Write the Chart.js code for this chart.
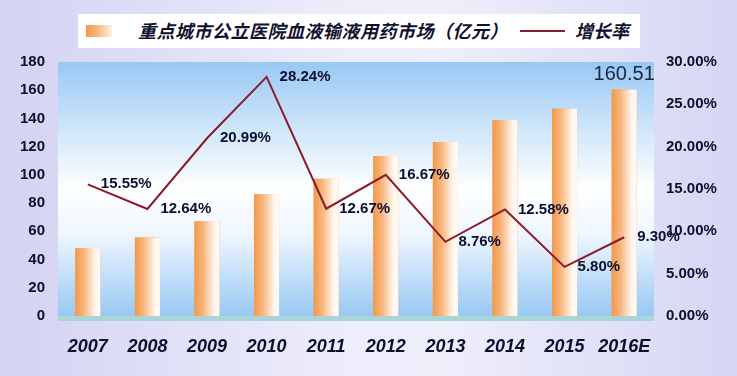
<!DOCTYPE html>
<html>
<head>
<meta charset="utf-8">
<script src="https://cdn.jsdelivr.net/npm/chart.js@4"></script>
<style>
  body { margin: 0; }
  #wrap {
    position: relative; width: 737px; height: 376px; overflow: hidden;
    background: linear-gradient(to right, #d3d3f3 0%, #ececfb 45%, #eeeefb 60%, #d6d6f4 100%);
  }
  #legend {
    position: absolute; left: 78px; top: 14px; width: 562px; height: 34px;
    background: #fff; font-family: "Noto Sans CJK SC", sans-serif;
    font-weight: bold; font-style: italic; font-size: 18px; color: #101030;
  }
  #legend .sw { position: absolute; left: 8px; top: 11px; width: 26px; height: 12px;
    background: linear-gradient(to right, #f29a4c, #f8bb86 50%, #fff3e6); }
  #legend .t1 { position: absolute; left: 60px; top: 3px; white-space: nowrap; letter-spacing: 0.5px; }
  #legend .ln { position: absolute; left: 442px; top: 16px; width: 45px; height: 2px; background: #8b1a2a; }
  #legend .t2 { position: absolute; left: 497px; top: 3px; white-space: nowrap; }
</style>
</head>
<body>
<div id="wrap">
  <canvas id="c" width="737" height="376"></canvas>
  <div id="legend">
    <div class="sw"></div><div class="t1">重点城市公立医院血液输液用药市场（亿元）</div>
    <div class="ln"></div><div class="t2">增长率</div>
  </div>
</div>
<script>
const years = ['2007', '2008', '2009', '2010', '2011', '2012', '2013', '2014', '2015', '2016E'];
const market = [48.1, 55.6, 67.3, 86.3, 97.2, 113.4, 123.3, 138.8, 146.9, 160.51];
const growth = [15.55, 12.64, 20.99, 28.24, 12.67, 16.67, 8.76, 12.58, 5.80, 9.30];
const leftTicks = [0, 20, 40, 60, 80, 100, 120, 140, 160, 180];
const rightTicks = [0, 5, 10, 15, 20, 25, 30];

const tickFont = { family: 'Liberation Sans', size: 15, weight: 'bold' };
const ink = '#0d0d2e';

// plot background, floor strip, gradient bars and value labels
const decor = {
  id: 'decor',
  beforeDatasetsDraw(chart) {
    const { ctx, chartArea: a } = chart;
    const g = ctx.createLinearGradient(0, a.top, 0, a.bottom);
    g.addColorStop(0, '#98c8f4');
    g.addColorStop(0.3, '#d6eafb');
    g.addColorStop(0.5, '#ffffff');
    g.addColorStop(0.68, '#eef6fe');
    g.addColorStop(1, '#97c8f3');
    ctx.save();
    ctx.fillStyle = g;
    ctx.fillRect(a.left, a.top, a.right - a.left, a.bottom - a.top);
    ctx.fillStyle = '#a9d5d6';
    ctx.fillRect(a.left, a.bottom, a.right - a.left, 5);
    ctx.restore();
  },
  afterDatasetDraw(chart, args) {
    if (args.index !== 0) return;
    const { ctx } = chart;
    ctx.save();
    args.meta.data.forEach(bar => {
      const x0 = bar.x - bar.width / 2;
      const g = ctx.createLinearGradient(x0, 0, x0 + bar.width, 0);
      g.addColorStop(0, '#f2984a');
      g.addColorStop(0.35, '#f8b67e');
      g.addColorStop(0.8, '#fff6ee');
      g.addColorStop(1, '#fffaf5');
      ctx.fillStyle = g;
      ctx.fillRect(x0, bar.y, bar.width, bar.base - bar.y);
    });
    ctx.restore();
  },
  afterDatasetsDraw(chart) {
    const { ctx } = chart;
    ctx.save();
    ctx.textBaseline = 'middle';
    ctx.textAlign = 'left';
    ctx.fillStyle = ink;
    ctx.font = 'bold 15px "Liberation Sans"';
    chart.getDatasetMeta(1).data.forEach((pt, i) => {
      ctx.fillText(growth[i].toFixed(2) + '%', pt.x + 13, pt.y);
    });
    const bars = chart.getDatasetMeta(0).data;
    const last = bars[bars.length - 1];
    ctx.textAlign = 'center';
    ctx.textBaseline = 'bottom';
    ctx.fillStyle = '#1a2540';
    ctx.font = '20px "Liberation Sans"';
    ctx.fillText(market[market.length - 1].toFixed(2), last.x, last.y - 5);
    ctx.restore();
  }
};

new Chart(document.getElementById('c'), {
  data: {
    labels: years,
    datasets: [
      {
        type: 'bar', label: '重点城市公立医院血液输液用药市场（亿元）', data: market,
        backgroundColor: '#f5a35c', yAxisID: 'y', order: 2,
        categoryPercentage: 1, barPercentage: 0.42
      },
      {
        type: 'line', label: '增长率', data: growth, yAxisID: 'y1', order: 1,
        borderColor: '#8b1a2a', borderWidth: 2, pointRadius: 0, tension: 0
      }
    ]
  },
  options: {
    responsive: false,
    animation: false,
    layout: { padding: { top: 62 } },
    plugins: { legend: { display: false }, tooltip: { enabled: false } },
    scales: {
      x: {
        grid: { display: false }, border: { display: false },
        ticks: {
          color: ink, padding: 12, maxRotation: 0, minRotation: 0, autoSkip: false,
          font: { family: 'Liberation Sans', size: 18, weight: 'bold', style: 'italic' }
        },
        afterFit(s) { s.height = 60; }
      },
      y: {
        position: 'left', min: leftTicks[0], max: leftTicks[leftTicks.length - 1],
        grid: { display: false }, border: { display: false },
        afterBuildTicks(s) { s.ticks = leftTicks.map(v => ({ value: v })); },
        ticks: { color: ink, padding: 5, font: tickFont },
        afterFit(s) { s.width = 58; }
      },
      y1: {
        position: 'right', min: rightTicks[0], max: rightTicks[rightTicks.length - 1],
        grid: { display: false }, border: { display: false },
        afterBuildTicks(s) { s.ticks = rightTicks.map(v => ({ value: v })); },
        ticks: { color: ink, padding: 4, font: tickFont, callback: v => v.toFixed(2) + '%' },
        afterFit(s) { s.width = 83; }
      }
    }
  },
  plugins: [decor]
});
</script>
</body>
</html>
